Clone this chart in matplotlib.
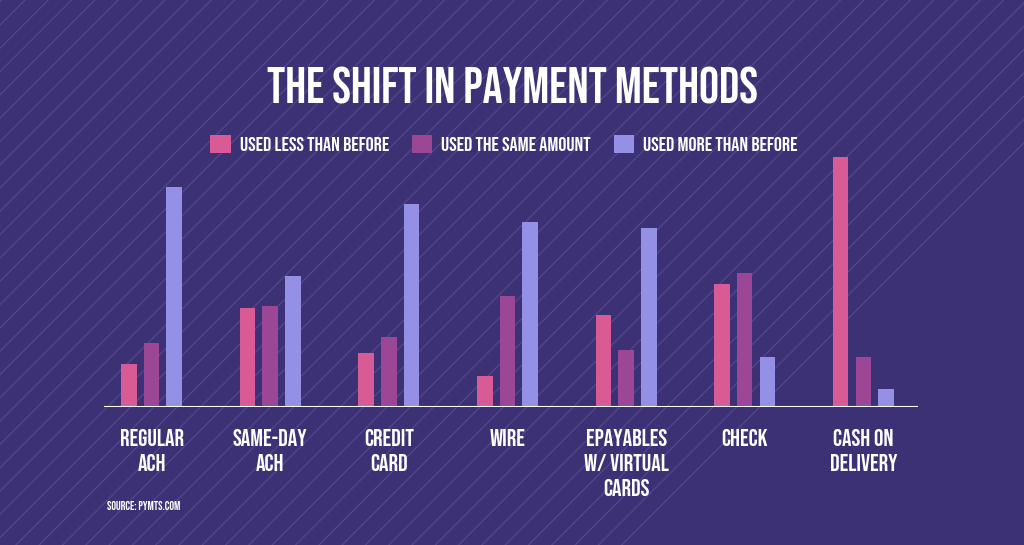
import numpy as np
import matplotlib.pyplot as plt
from matplotlib.lines import Line2D
from matplotlib import font_manager

# values (bar heights, arbitrary units)
categories = ['REGULAR\nACH', 'SAME-DAY\nACH', 'CREDIT\nCARD', 'WIRE',
              'EPAYABLES\nW/ VIRTUAL\nCARDS', 'CHECK', 'CASH ON\nDELIVERY']
series_names = ['USED LESS THAN BEFORE', 'USED THE SAME AMOUNT', 'USED MORE THAN BEFORE']
used_less = [42.7, 98.7, 53.7, 31.0, 92.3, 123.3, 249.7]
used_same = [63.7, 101.3, 70.3, 111.3, 57.3, 133.7, 49.7]
used_more = [220.3, 130.7, 203.0, 185.3, 178.7, 50.0, 17.7]
# check bars dip a little under the baseline in the original
bar_bottom = [0, 0, 0, 0, 0, -3.7, 0]

colors = ['#d95b96', '#9b4795', '#9490e6']
bg = '#3c3175'

# look for a narrow font, the original uses a tall condensed face
fonts = font_manager.fontManager.ttflist
names = set(f.name for f in fonts)
stretch = 'normal'
fam = None
for cand in ['Bebas Neue', 'Oswald', 'Roboto Condensed', 'Liberation Sans Narrow',
             'Open Sans Condensed', 'Noto Sans Condensed', 'DejaVu Sans Condensed']:
    if cand in names:
        fam = cand
        break
if fam is None and any(f.name == 'DejaVu Sans' and 'condensed' in str(f.stretch) for f in fonts):
    fam = 'DejaVu Sans'
    stretch = 'condensed'
narrow = fam is not None
if fam is None:
    fam = 'DejaVu Sans'
plt.rcParams['font.family'] = [fam, 'DejaVu Sans']
plt.rcParams['font.stretch'] = stretch
k = 1.0 if narrow else 0.6

W, H = 1024, 545
fig = plt.figure(figsize=(W / 100, H / 100), dpi=100, facecolor=bg)

# diagonal stripes in the background
for j in range(-30, 50):
    c = 25 + 23.3 * j - H
    xs = np.array([0, H]) + c
    ys = np.array([0, H])
    fig.add_artist(Line2D(xs / W, ys / H, transform=fig.transFigure,
                          color='#51488a', lw=0.9, zorder=0))

# axes placed so the baseline sits where the original one is
ax_left, ax_right = 104, 918
base_y, top_y = 407, 140
ax = fig.add_axes([ax_left / W, (H - base_y) / H, (ax_right - ax_left) / W, (base_y - top_y) / H])
ax.patch.set_visible(False)
ax.set_xlim(-0.4005, 6.4605)
ax.set_ylim(0, base_y - top_y)

x = np.arange(len(categories))
w = 0.131
off = 0.1914
bottom = np.array(bar_bottom)
bars = []
for i, (vals, col) in enumerate(zip([used_less, used_same, used_more], colors)):
    vals = np.array(vals)
    b = ax.bar(x + (i - 1) * off, vals - bottom, bottom=bottom, width=w,
               color=col, edgecolor='none', zorder=2, label=series_names[i])
    bars.append(b)

ax.axhline(0, color='white', lw=2.2, zorder=3)

for s in ax.spines.values():
    s.set_visible(False)
ax.set_yticks([])
ax.set_xticks(x)
ax.set_xticklabels(categories, color='white', fontsize=17 * k, fontweight='bold',
                   linespacing=1.47, va='top')
ax.tick_params(axis='x', length=0, pad=15.5)

fig.text(0.5, (H - 85) / H, 'THE SHIFT IN PAYMENT METHODS', ha='center', va='center',
         color='white', fontsize=36 * k, fontweight='bold')

leg = fig.legend(handles=bars, loc='center', bbox_to_anchor=(0.4923, (H - 144) / H),
                 ncol=3, frameon=False, fontsize=14.5 * k, handlelength=1.0, handleheight=1.0,
                 handletextpad=0.45, columnspacing=1.15, borderaxespad=0)
for t in leg.get_texts():
    t.set_color('white')
    t.set_fontweight('bold')

fig.text(107 / W, (H - 505) / H, 'SOURCE: PYMTS.COM', color='white', fontsize=8.5 * k,
         fontweight='bold', va='center')

fig.savefig('out.png', dpi=100, facecolor=bg)
